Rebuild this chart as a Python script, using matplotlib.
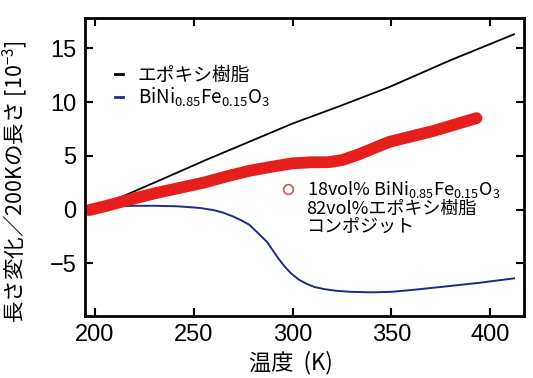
import matplotlib
matplotlib.use("Agg")
import matplotlib.pyplot as plt
from matplotlib.lines import Line2D

plt.rcParams['font.family'] = ['Liberation Sans Narrow', 'Liberation Sans', 'Noto Sans CJK JP', 'DejaVu Sans']
plt.rcParams['mathtext.fontset'] = 'custom'
plt.rcParams['mathtext.rm'] = 'Noto Sans CJK JP'
plt.rcParams['mathtext.it'] = 'Noto Sans CJK JP'

# epoxy resin
epoxy_T = [200, 210, 235, 256, 278, 300, 325, 349, 380, 412]
epoxy_v = [0.0, 0.9, 2.9, 4.6, 6.3, 8.0, 9.7, 11.4, 13.9, 16.3]

# BiNi0.85Fe0.15O3
bnfo_T = [211, 220, 230, 242, 253, 260, 265, 270, 274, 278, 282, 287, 290, 293, 296,
          299, 303, 307, 311, 316, 322, 329, 340, 350, 362, 380, 395, 412]
bnfo_v = [0.3, 0.35, 0.35, 0.3, 0.15, -0.05, -0.3, -0.65, -1.0, -1.4, -2.1, -3.0, -3.8,
          -4.6, -5.3, -5.9, -6.5, -6.9, -7.2, -7.4, -7.55, -7.65, -7.7, -7.65, -7.45, -7.1, -6.8, -6.4]

# composite 18vol% BNFO / 82vol% epoxy
comp_T = [197, 205, 215, 230, 245, 255, 267, 278, 290, 300, 310, 318, 325, 333, 341,
          349, 360, 371, 382, 393]
comp_v = [-0.05, 0.3, 0.8, 1.5, 2.1, 2.5, 3.1, 3.6, 4.0, 4.3, 4.4, 4.4, 4.6, 5.1, 5.7,
          6.3, 6.8, 7.3, 7.9, 8.5]

xticks = [200, 250, 300, 350, 400]
yticks = [-5, 0, 5, 10, 15]

cjk = ['Noto Sans CJK JP', 'DejaVu Sans']

fig = plt.figure(figsize=(5.33, 3.78), dpi=100)
ax = fig.add_axes([0.1595, 0.164, 0.8235, 0.788])

ax.plot(epoxy_T, epoxy_v, color='black', lw=1.3)
ax.plot(bnfo_T, bnfo_v, color='#1f2a86', lw=1.4)
ax.plot(comp_T, comp_v, color='#e5201c', lw=8.5, solid_capstyle='round', solid_joinstyle='round')

ax.set_xlim(195, 417)
ax.set_ylim(-9.9, 17.8)
ax.set_xticks(xticks)
ax.set_yticks(yticks)
ax.tick_params(direction='in', length=6, width=1.5, top=True, right=True, labelsize=17, pad=6)
for s in ax.spines.values():
    s.set_linewidth(2)

ax.set_xlabel('温度  (K)', fontsize=16, family=cjk)
ax.xaxis.set_label_coords(0.47, -0.118)
ax.set_ylabel('長さ変化／200Kの長さ [10$^{-3}$]', fontsize=15.5, family=cjk)
ax.yaxis.set_label_coords(-0.125, 0.45)

h1 = [Line2D([], [], color='black', lw=2), Line2D([], [], color='#1f2a86', lw=2)]
leg1 = ax.legend(h1, ['エポキシ樹脂', 'BiNi$_{0.85}$Fe$_{0.15}$O$_3$'], loc='upper left',
                 bbox_to_anchor=(0.03, 0.9), frameon=False, handlelength=0.45,
                 handletextpad=0.75, labelspacing=0.0,
                 prop={'family': cjk, 'size': 13.5})
ax.add_artist(leg1)

h2 = [Line2D([], [], ls='none', marker='o', ms=7, mfc='none', mec='#d05a5a', mew=1.2),
      Line2D([], [], ls='none'), Line2D([], [], ls='none')]
ax.legend(h2, ['18vol% BiNi$_{0.85}$Fe$_{0.15}$O$_3$', '82vol%エポキシ樹脂', 'コンポジット'],
          loc='upper left', bbox_to_anchor=(0.41, 0.515), frameon=False, handlelength=0.8,
          handletextpad=0.6, labelspacing=0.0,
          prop={'family': cjk, 'size': 13})

fig.savefig('out.png', dpi=100)
